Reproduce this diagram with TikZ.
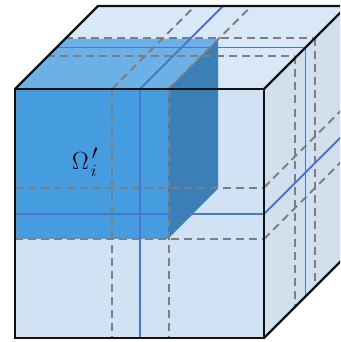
\documentclass[tikz,border=0pt]{standalone}
\usepackage{amsmath}
\definecolor{fl}{HTML}{D0E2F3}
\definecolor{tl}{HTML}{D9E8F6}
\definecolor{sl}{HTML}{D2E0EE}
\definecolor{fb}{HTML}{459CDE}
\definecolor{tb}{HTML}{6CB1E5}
\definecolor{sb}{HTML}{3A80B6}
\definecolor{ln}{HTML}{4A76CF}
\definecolor{gl}{HTML}{7E7E7E}
\definecolor{ed}{HTML}{111111}
\tikzset{
  gridblue/.style={draw=ln,line width=1.8pt},
  griddash/.style={draw=gl,line width=2pt,dash pattern=on 8pt off 5pt},
  cubeedge/.style={draw=ed,line width=2.3pt,line join=round},
  frontedge/.style={draw=ed,line width=2.7pt,line join=miter}
}
\begin{document}
\begin{tikzpicture}[x=1pt,y=-1pt]
\useasboundingbox (0,0) rectangle (340,342);
\clip (0,0) rectangle (340,342);
% faces
\fill[tl] (15,89) -- (98,6) -- (347,6) -- (264,89) -- cycle;
\fill[sl] (264,89) -- (347,6) -- (347,255) -- (264,338) -- cycle;
\fill[fl] (15,89) rectangle (264,338);
% blue block
\fill[tb] (15,89) -- (65,39) -- (218,39) -- (168,89) -- cycle;
\fill[sb] (168,89) -- (218,39) -- (218,188.5) -- (168,239) -- cycle;
\fill[fb] (15,89) rectangle (168,239);
% top face grid
\draw[griddash] (65,38.5) -- (313,38.5);
\draw[griddash] (47,56.5) -- (295,56.5);
\draw[gridblue] (57,47.5) -- (305.5,47.5);
\draw[griddash] (112,89) -- (195,6);
\draw[griddash] (168.5,89) -- (251.5,6);
\draw[gridblue] (140,89) -- (223,6);
% right face grid
\draw[griddash] (295,56.5) -- (295,307);
\draw[griddash] (314.5,38.5) -- (314.5,288);
\draw[gridblue] (305.5,47.5) -- (305.5,296.5);
\draw[griddash] (264,187.5) -- (347,104.5);
\draw[griddash] (264,239) -- (347,156);
\draw[gridblue] (264,214) -- (347,131);
% front face grid
\draw[griddash] (15,187.5) -- (264,187.5);
\draw[griddash] (15,239) -- (264,239);
\draw[gridblue] (15,214) -- (264,214);
\draw[griddash] (112,89) -- (112,338);
\draw[griddash] (168.5,89) -- (168.5,338);
\draw[gridblue] (140,89) -- (140,338);
% edges
\draw[cubeedge] (15,89) -- (98,6) -- (347,6);
\draw[cubeedge] (264,89) -- (347,6);
\draw[cubeedge] (264,338) -- (347,255);
\draw[frontedge] (15,89) rectangle (264,338);
\node[inner sep=0pt,anchor=base west,font=\fontsize{29}{29}\selectfont] (omega) at (72,169.5)
  {$\Omega$\kern2pt\rlap{\kern1pt\raisebox{10pt}{\fontsize{20}{20}\selectfont$\prime$}}\raisebox{-7pt}{\fontsize{16}{16}\selectfont$i$}};
\end{tikzpicture}
\end{document}
